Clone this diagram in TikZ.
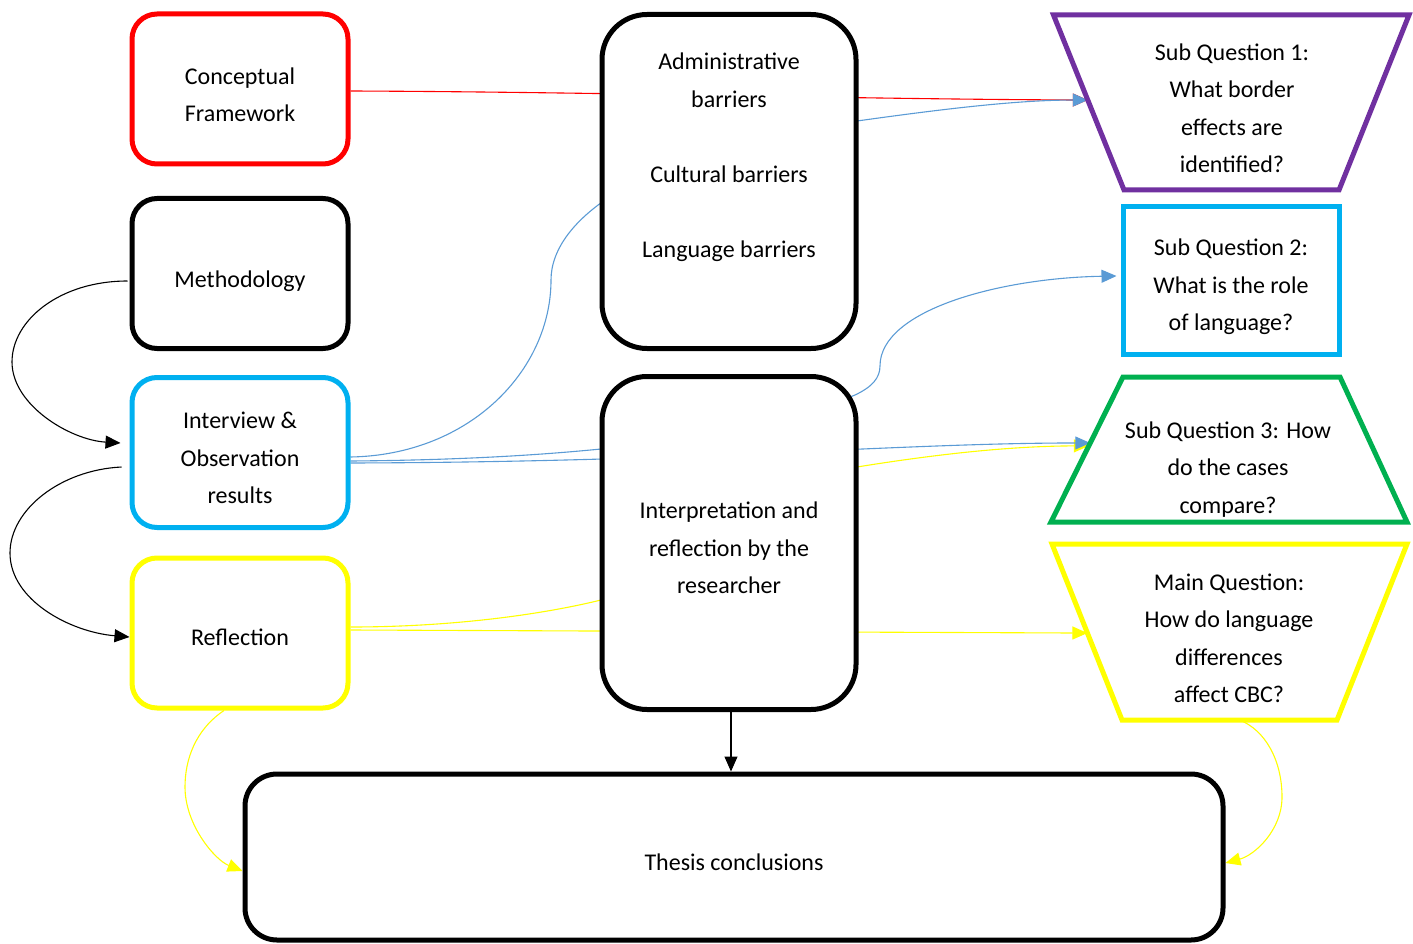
\documentclass[tikz,border=0pt]{standalone}
\usepackage{fontspec}
\setmainfont{Carlito}
\usetikzlibrary{arrows.meta,calc}
\pgfdeclarelayer{bg}
\pgfsetlayers{bg,main}
\definecolor{cRed}{HTML}{FF0000}
\definecolor{cCyan}{HTML}{00B0F0}
\definecolor{cYel}{HTML}{FFFF00}
\definecolor{cGreen}{HTML}{00B050}
\definecolor{cPurp}{HTML}{7030A0}
\definecolor{cBlue}{HTML}{5B9BD5}
\newcommand\diagfont{\fontsize{24}{37.5}\selectfont}
\begin{document}
\begin{tikzpicture}[x=1pt,y=-1pt,
  box/.style={draw,line width=5pt,fill=white,rounded corners=25pt,inner sep=0pt,minimum width=216pt,minimum height=150pt},
  shp/.style={inner sep=0pt,outer sep=0pt},
  txt/.style={align=center,font=\diagfont,inner sep=0pt},
  outl/.style={line width=5pt},
  conn/.style={line width=1.1pt},
  tip/.style={-{Triangle[length=15pt,width=13pt]}}
]
\useasboundingbox (0,0) rectangle (1413,944);

% left column
\node[box,draw=cRed] (cf) at (240,89) {};
\node[txt] (cft) at (240,95) {Conceptual\\Framework};
\node[box] (meth) at (240,273.5) {};
\node[txt] (metht) at (240,281) {Methodology};
\node[box,draw=cCyan] (int) at (240,452.5) {};
\node[txt] (intt) at (240,458) {Interview \&\\Observation\\results};
\node[box,draw=cYel] (refl) at (240,633) {};
\node[txt] (reflt) at (240,637.5) {Reflection};

% middle column
\node[box,rounded corners=45pt,minimum width=254pt,minimum height=334pt] (adm) at (729,181.5) {};
\node[txt] (admt) at (729,157) {Administrative\\barriers\\[37.5pt]Cultural barriers\\[37.5pt]Language barriers};
\node[box,rounded corners=45pt,minimum width=254pt,minimum height=333pt] (interp) at (729,543) {};
\node[txt] (interpt) at (729,548) {Interpretation and\\reflection by the\\researcher};
\node[box,rounded corners=32pt,minimum width=978pt,minimum height=166pt] (thesis) at (734,857) {};
\node[txt] (thesist) at (734,862) {Thesis conclusions};

% right column
\node[shp,minimum width=215pt,minimum height=175pt] (sq1) at (1231.5,102.5) {};
\coordinate (sq1tl) at ($(sq1.north west)+(-70.5,0)$);
\coordinate (sq1tr) at ($(sq1.north east)+(70,0)$);
\draw[outl,cPurp] (sq1.south west) -- (sq1.south east) -- (sq1tr) -- (sq1tl) -- cycle;
\node[txt] (sq1t) at (1232,108.5) {Sub Question 1:\\What border\\effects are\\identified?};
\coordinate (sq1L) at ($(sq1tl)!0.486!(sq1.south west)$);

\node[draw=cCyan,line width=5pt,inner sep=0pt,minimum width=216pt,minimum height=147pt] (sq2) at (1231,280.5) {};
\node[txt] (sq2t) at (1231,287) {Sub Question 2:\\What is the role\\of language?};

\node[shp,minimum width=217pt,minimum height=145pt] (sq3) at (1231.5,449.5) {};
\coordinate (sq3bl) at ($(sq3.south west)+(-72,0)$);
\coordinate (sq3br) at ($(sq3.south east)+(67,0)$);
\draw[outl,cGreen] (sq3.north west) -- (sq3.north east) -- (sq3br) -- (sq3bl) -- cycle;
\node[txt] (sq3t) at (1228,469.5) {Sub Question 3: How\\do the cases\\compare?};
\coordinate (sq3L) at ($(sq3.north west)!0.455!(sq3bl)$);
\coordinate (sq3Ly) at ($(sq3.north west)!0.475!(sq3bl)$);

\node[shp,minimum width=215pt,minimum height=176pt] (mq) at (1229.5,632) {};
\coordinate (mqtl) at ($(mq.north west)+(-70,0)$);
\coordinate (mqtr) at ($(mq.north east)+(70,0)$);
\draw[outl,cYel] (mq.south west) -- (mq.south east) -- (mqtr) -- (mqtl) -- cycle;
\node[txt] (mqt) at (1229,638.5) {Main Question:\\How do language\\differences\\affect CBC?};
\coordinate (mqL) at ($(mqtl)!0.506!(mq.south west)$);

% connectors
\begin{pgfonlayer}{bg}
\draw[conn,cRed,tip] ($(cf.east)+(0,2)$) .. controls (600,92) and (850,99) .. (sq1L);
\draw[conn,cBlue,tip] ($(int.east)+(0,4.5)$) .. controls (470,455) and (551,370) .. (551,280)
   .. controls (551,220) and (640,150) .. (857,121) .. controls (950,108) and (1020,100) .. (sq1L);
\draw[conn,cBlue,tip] ($(int.east)+(0,8.5)$) .. controls (480,460) and (560,453) .. (601,449)
   .. controls (700,440) and (820,410) .. (855,395) .. controls (872,387) and (880,378) .. (880,366)
   .. controls (880,310) and (1000,278) .. ($(sq2.west)+(-4,-4.5)$);
\draw[conn,cYel,tip] ($(refl.east)+(0,-6)$) .. controls (450,627) and (540,615) .. (601,600)
   .. controls (700,560) and (780,480) .. (857,467) .. controls (950,452) and (1020,446) .. (sq3Ly);
\draw[conn,cBlue,tip] ($(int.east)+(0,10.5)$) .. controls (700,462) and (900,443) .. (sq3L);
\draw[conn,cYel,tip] ($(refl.east)+(0,-3)$) -- (mqL);
\draw[conn,tip] ($(meth.west)+(-2,7.5)$) .. controls (60,281) and (12,320) .. (12,362)
   .. controls (12,405) and (70,440) .. ($(int.west)+(-9,-9.5)$);
\draw[conn,tip] ($(int.west)+(-8,14.5)$) .. controls (60,470) and (10,510) .. (10,553)
   .. controls (10,600) and (70,632) .. ($(refl.west)+(0,4)$);
\draw[conn,cYel,tip] ($(refl.south)+(-16,0)$) .. controls (195,730) and (185,760) .. (185,787)
   .. controls (185,825) and (215,860) .. ($(thesis.west)+(0,14)$);
\draw[conn,cYel,tip] ($(mq.south)+(10,0)$) .. controls (1265,730) and (1282,760) .. (1282,797)
   .. controls (1282,830) and (1255,855) .. ($(thesis.east)+(0,6)$);
\draw[conn,tip] ($(interp.south)+(2,0)$) -- ($(interp.south |- thesis.north)+(2,0)$);
\end{pgfonlayer}
\end{tikzpicture}
\end{document}
